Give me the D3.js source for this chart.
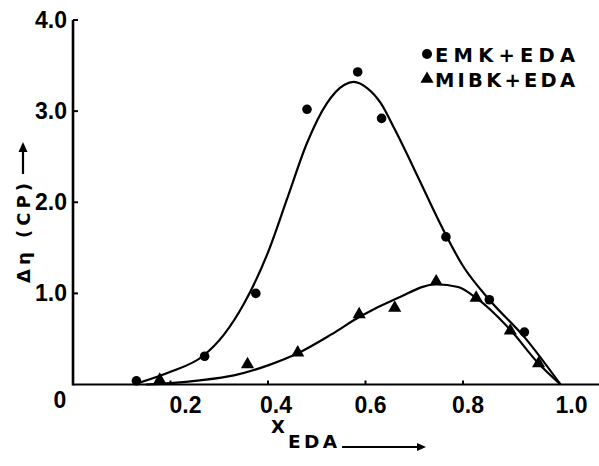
<!DOCTYPE html>
<html><head><meta charset="utf-8">
<script src="https://cdn.jsdelivr.net/npm/d3@7"></script>
<style>html,body{margin:0;padding:0;background:#fff;}svg{display:block;}</style>
</head><body>
<script>
// ---- data ----
const emkX = [0.13, 0.27, 0.375, 0.48, 0.584, 0.633, 0.765, 0.854, 0.926];
const emkY = [0.04, 0.31, 1.00, 3.02, 3.43, 2.92, 1.62, 0.93, 0.575];
const mibkX = [0.178, 0.358, 0.461, 0.587, 0.66, 0.745, 0.827, 0.897, 0.955];
const mibkY = [0.05, 0.22, 0.35, 0.77, 0.84, 1.13, 0.95, 0.59, 0.23];
// smoothed fitted curves (knots)
const emkCurveX = [0.13, 0.20, 0.266, 0.31, 0.35, 0.40, 0.44, 0.48, 0.52, 0.557, 0.576, 0.604, 0.631, 0.66, 0.71, 0.75, 0.80, 0.854, 0.926, 1.0];
const emkCurveY = [0.01, 0.14, 0.31, 0.55, 0.88, 1.45, 2.05, 2.65, 3.08, 3.29, 3.32, 3.25, 3.09, 2.80, 2.25, 1.80, 1.30, 0.93, 0.52, 0.0];
const mibkCurveX = [0.15, 0.20, 0.26, 0.33, 0.40, 0.46, 0.53, 0.587, 0.666, 0.745, 0.79, 0.827, 0.897, 0.955, 1.0];
const mibkCurveY = [0.0, 0.015, 0.045, 0.10, 0.21, 0.34, 0.55, 0.74, 0.95, 1.10, 1.07, 0.95, 0.60, 0.23, 0.0];
const xTicks = [0.2, 0.4, 0.6, 0.8, 1.0];
const xTickLabels = ["0.2", "0.4", "0.6", "0.8", "1.0"];
const yTicks = [1, 2, 3, 4];
const yTickLabels = ["1.0", "2.0", "3.0", "4.0"];
const legendLabels = ["EMK+EDA", "MIBK+EDA"];

const W = 599, H = 466;
const svg = d3.select("body").append("svg").attr("width", W).attr("height", H);
const x = d3.scaleLinear().domain([0, 1]).range([73, 560.5]);
const y = d3.scaleLinear().domain([0, 4]).range([384.5, 20]);
const font = "'Liberation Sans', Arial, sans-serif";
const font2 = "'DejaVu Sans', sans-serif";
const xLabelShift = [15, 8, 5, 5, 11];

// axes
svg.append("line").attr("x1", x(0)).attr("x2", W).attr("y1", y(0)).attr("y2", y(0))
  .attr("stroke", "#000").attr("stroke-width", 2.2);
svg.append("line").attr("x1", x(0)).attr("x2", x(0)).attr("y1", y(4)).attr("y2", y(0) + 1)
  .attr("stroke", "#000").attr("stroke-width", 2.6);
svg.selectAll(".yt").data(yTicks).enter().append("line")
  .attr("x1", x(0)).attr("x2", x(0) + 5).attr("y1", d => y(d)).attr("y2", d => y(d))
  .attr("stroke", "#000").attr("stroke-width", 2);
svg.selectAll(".ytl").data(yTicks).enter().append("text")
  .attr("x", 67).attr("y", d => y(d) + 8).attr("text-anchor", "end")
  .attr("font-family", font).attr("font-weight", "bold").attr("font-size", 23)
  .text((d, i) => yTickLabels[i]);
svg.selectAll(".xt").data(xTicks.slice(0, 4)).enter().append("line")
  .attr("x1", d => x(d)).attr("x2", d => x(d)).attr("y1", y(0)).attr("y2", y(0) - 4)
  .attr("stroke", "#000").attr("stroke-width", 2);
svg.selectAll(".xtl").data(xTicks).enter().append("text")
  .attr("x", (d, i) => x(d) + xLabelShift[i]).attr("y", 413).attr("text-anchor", "middle")
  .attr("font-family", font).attr("font-weight", "bold").attr("font-size", 23)
  .text((d, i) => xTickLabels[i]);
svg.append("text").attr("x", 60).attr("y", 408).attr("text-anchor", "middle")
  .attr("font-family", font).attr("font-weight", "bold").attr("font-size", 23).text("0");

// curves
const line = d3.line().x(d => x(d[0])).y(d => y(d[1])).curve(d3.curveMonotoneX);
svg.append("path").attr("d", line(emkCurveX.map((v, i) => [v, emkCurveY[i]])))
  .attr("fill", "none").attr("stroke", "#000").attr("stroke-width", 2.2);
svg.append("path").attr("d", line(mibkCurveX.map((v, i) => [v, mibkCurveY[i]])))
  .attr("fill", "none").attr("stroke", "#000").attr("stroke-width", 2.2);

// markers
svg.selectAll(".emk").data(emkX).enter().append("circle")
  .attr("cx", d => x(d)).attr("cy", (d, i) => y(emkY[i])).attr("r", 4.8).attr("fill", "#000");
const tri = d3.symbol().type(d3.symbolTriangle).size(75);
svg.selectAll(".mibk").data(mibkX).enter().append("path")
  .attr("d", tri).attr("transform", (d, i) => `translate(${x(d)},${y(mibkY[i])})`).attr("fill", "#000");

// legend
svg.append("circle").attr("cx", 427).attr("cy", 54).attr("r", 5).attr("fill", "#000");
svg.append("path").attr("d", tri).attr("transform", "translate(427,79)").attr("fill", "#000");
svg.selectAll(".lg").data(legendLabels).enter().append("text")
  .attr("x", 435).attr("y", (d, i) => 61.5 + i * 25)
  .attr("font-family", font2).attr("font-weight", "bold").attr("font-size", 19.5)
  .attr("textLength", 140).attr("lengthAdjust", "spacing").text(d => d);

// y axis title
svg.append("text").attr("transform", "translate(30,283) rotate(-90)")
  .attr("font-family", font2).attr("font-weight", "bold").attr("font-size", 18)
  .attr("letter-spacing", 4).text("Δη (CP)");
svg.append("line").attr("x1", 23).attr("x2", 23).attr("y1", 174).attr("y2", 147)
  .attr("stroke", "#000").attr("stroke-width", 2.2);
svg.append("path").attr("d", "M23,142 L18.5,152 L27.5,152 Z").attr("fill", "#000");

// x axis title
svg.append("text").attr("x", 271).attr("y", 433)
  .attr("font-family", font2).attr("font-weight", "bold").attr("font-size", 18).text("X");
svg.append("text").attr("x", 288).attr("y", 448)
  .attr("font-family", font2).attr("font-weight", "bold").attr("font-size", 18.5)
  .attr("textLength", 49).attr("lengthAdjust", "spacing").text("EDA");
svg.append("line").attr("x1", 342).attr("x2", 420).attr("y1", 447).attr("y2", 447)
  .attr("stroke", "#000").attr("stroke-width", 1.8);
svg.append("path").attr("d", "M426,447 L417,443 L417,451 Z").attr("fill", "#000");
</script>
</body></html>
